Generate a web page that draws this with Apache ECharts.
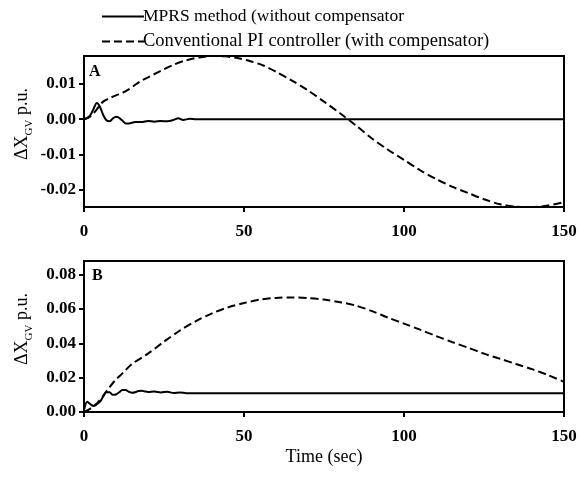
<!DOCTYPE html>
<html>
<head>
<meta charset="utf-8">
<script src="https://cdn.jsdelivr.net/npm/echarts@6/dist/echarts.min.js"></script>
<style>html,body{margin:0;padding:0;background:#fff}#c{width:586px;height:477px}</style>
</head>
<body>
<div id="c"></div>
<script>
// ---- data ----
var seriesNames = ['MPRS method (without compensator', 'Conventional PI controller (with compensator)'];
var xTicks = [0, 50, 100, 150];
var yTicksA = [-0.02, -0.01, 0.00, 0.01];
var yTicksB = [0.00, 0.02, 0.04, 0.06, 0.08];

var tA_mprs = [0,1,2,3,4,5,6,7,8,9,10,11,12,13,14,16,18,20,22,24,26,28,29.5,31,33,35,40,150];
var vA_mprs = [0,0.0003,0.0012,0.003,0.0046,0.0035,0.0012,-0.0003,-0.0006,0.0002,0.0007,0.0004,-0.0004,-0.0012,-0.0012,-0.0008,-0.0008,-0.0005,-0.0007,-0.0005,-0.0006,-0.0002,0.0003,-0.0002,0.0001,0.0,0.0,0.0];

var tA_pi = [0,2,4,5,6,8,10,12,14,16,18,20,24,28,32,36,40,44,48,52,56,60,65,70,75,80,85,90,95,100,105,110,115,120,125,130,135,140,145,150];
var vA_pi = [0,0.0008,0.0028,0.004,0.005,0.006,0.0068,0.0075,0.0085,0.0098,0.011,0.0119,0.0138,0.0155,0.0168,0.0176,0.018,0.0179,0.0174,0.0165,0.0153,0.0135,0.011,0.0082,0.005,0.0017,-0.0018,-0.0055,-0.0087,-0.0116,-0.0145,-0.017,-0.0192,-0.021,-0.0228,-0.0242,-0.0249,-0.025,-0.0246,-0.0236];

var tB_mprs = [0,1,2,3,4,5,6,7,8,9,10,11,12,13,14,15,16,17,18,19,20,22,24,26,28,30,32,150];
var vB_mprs = [0.001,0.006,0.0045,0.0035,0.0045,0.006,0.009,0.0115,0.0115,0.0100,0.0102,0.0115,0.0128,0.0128,0.0118,0.0112,0.0115,0.0122,0.0124,0.0120,0.0117,0.0119,0.0114,0.0118,0.0111,0.0113,0.011,0.011];

var tB_pi = [0,2,4,6,8,10,12,15,20,25,30,35,40,45,50,55,60,65,70,75,80,85,90,95,100,105,110,115,120,125,130,135,140,145,150];
var vB_pi = [0,0.002,0.005,0.0095,0.0145,0.019,0.0225,0.028,0.034,0.041,0.0475,0.053,0.0575,0.061,0.0635,0.0655,0.0665,0.0668,0.0664,0.0655,0.064,0.062,0.0588,0.055,0.0515,0.048,0.0443,0.0408,0.0375,0.034,0.031,0.028,0.025,0.0215,0.0176];

function pairs(t, v) { return t.map(function (x, i) { return [x, v[i]]; }); }

var FONT = 'Liberation Serif';
var chart = echarts.init(document.getElementById('c'), null, { renderer: 'canvas' });

function xAxis(gi) {
  return {
    gridIndex: gi, type: 'value', min: 0, max: 150, interval: 50,
    axisLine: { show: true, onZero: false, lineStyle: { color: '#000', width: 2 } },
    axisTick: { show: true, inside: false, length: 5, lineStyle: { color: '#000', width: 2 } },
    axisLabel: { show: true, margin: 16, color: '#000', fontFamily: FONT, fontSize: 17, fontWeight: 'bold',
      customValues: xTicks },
    splitLine: { show: false }
  };
}
function yAxis(gi, min, max, ticks, gap) {
  return {
    gridIndex: gi, type: 'value', min: min, max: max,
    axisLine: { show: true, onZero: false, lineStyle: { color: '#000', width: 2 } },
    axisTick: { show: true, inside: false, length: 5, lineStyle: { color: '#000', width: 2 }, customValues: ticks },
    axisLabel: { show: true, margin: 8, color: '#000', fontFamily: FONT, fontSize: 17, fontWeight: 'bold',
      customValues: ticks, formatter: function (v) { return v.toFixed(2); } },
    splitLine: { show: false },
    name: '{a|ΔX}{b|GV}{a| p.u.}',
    nameLocation: 'middle', nameRotate: 90, nameGap: gap, nameMoveOverlap: false,
    nameTextStyle: {
      color: '#000', fontFamily: FONT, padding: [0, 0, 0, 15],
      rich: {
        a: { fontFamily: FONT, fontSize: 18, fontWeight: 'normal', color: '#000', lineHeight: 20 },
        b: { fontFamily: FONT, fontSize: 11, fontWeight: 'normal', color: '#000', lineHeight: 20, padding: [14, 0, 0, 0] }
      }
    }
  };
}

var solid = { color: '#000', width: 2, type: 'solid' };
var dashed = { color: '#000', width: 2, type: [8, 4] };

chart.setOption({
  animation: false,
  backgroundColor: '#fff',
  textStyle: { fontFamily: FONT },
  legend: {
    orient: 'vertical', left: 96, top: 2,
    itemWidth: 42, itemHeight: 12, itemGap: 6,
    itemStyle: { opacity: 0 },
    textStyle: { fontFamily: FONT, fontSize: 17, color: '#000', lineHeight: 19, padding: [0, 0, 0, -6] },
    data: [
      { name: seriesNames[0], textStyle: { fontSize: 17.5 } },
      { name: seriesNames[1], textStyle: { fontSize: 18.5 } }
    ]
  },
  grid: [
    { left: 84, right: 22, top: 56, height: 151, show: true, borderColor: '#000', borderWidth: 2, containLabel: false, outerBoundsMode: 'none' },
    { left: 84, right: 22, top: 261, height: 151, show: true, borderColor: '#000', borderWidth: 2, containLabel: false, outerBoundsMode: 'none' }
  ],
  xAxis: [
    xAxis(0),
    Object.assign(xAxis(1), { name: 'Time (sec)', nameLocation: 'middle', nameGap: 36,
      nameTextStyle: { color: '#000', fontFamily: FONT, fontSize: 18, fontWeight: 'normal' } })
  ],
  yAxis: [
    yAxis(0, -0.025, 0.018, yTicksA, 52),
    yAxis(1, 0, 0.088, yTicksB, 52)
  ],
  graphic: [
    { type: 'text', left: 89, top: 64, style: { text: 'A', font: 'bold 16px "Liberation Serif"', fill: '#000' } },
    { type: 'text', left: 92, top: 268, style: { text: 'B', font: 'bold 16px "Liberation Serif"', fill: '#000' } }
  ],
  series: [
    { name: seriesNames[0], type: 'line', xAxisIndex: 0, yAxisIndex: 0, showSymbol: false, symbol: 'none', smooth: 0.3, lineStyle: solid, itemStyle: { color: '#000' }, data: pairs(tA_mprs, vA_mprs) },
    { name: seriesNames[1], type: 'line', xAxisIndex: 0, yAxisIndex: 0, showSymbol: false, symbol: 'none', smooth: 0.3, lineStyle: dashed, itemStyle: { color: '#000' }, data: pairs(tA_pi, vA_pi) },
    { name: seriesNames[0], type: 'line', xAxisIndex: 1, yAxisIndex: 1, showSymbol: false, symbol: 'none', smooth: 0.3, lineStyle: solid, itemStyle: { color: '#000' }, data: pairs(tB_mprs, vB_mprs) },
    { name: seriesNames[1], type: 'line', xAxisIndex: 1, yAxisIndex: 1, showSymbol: false, symbol: 'none', smooth: 0.3, lineStyle: dashed, itemStyle: { color: '#000' }, data: pairs(tB_pi, vB_pi) }
  ]
});
</script>
</body>
</html>
